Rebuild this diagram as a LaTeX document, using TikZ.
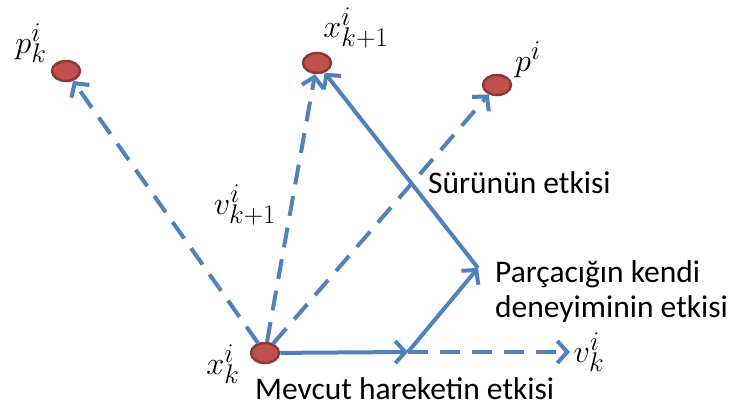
\documentclass[tikz,border=0pt]{standalone}
\usepackage{fontspec}
\setmainfont{Carlito}
\usetikzlibrary{arrows.meta,shapes.geometric}
\definecolor{lineblue}{HTML}{4F81BD}
\definecolor{dotred}{HTML}{C0504D}
\definecolor{dotedge}{HTML}{8C3836}
\newcommand{\mlab}[1]{\scalebox{1.3}{$#1$}}
\begin{document}
\begin{tikzpicture}[x=1pt,y=-1pt,
  dot/.style={ellipse,fill=dotred,draw=dotedge,line width=2.5pt,minimum width=28pt,minimum height=20pt,inner sep=0pt},
  vec/.style={draw=lineblue,line width=4pt,-{Straight Barb[length=10pt,width=22pt,line width=4pt]}},
  dvec/.style={vec,dash pattern=on 20pt off 12pt},
  mlabel/.style={inner sep=0pt,font=\fontsize{24.88}{30}\selectfont},
  tlabel/.style={inner sep=0pt,font=\fontsize{31.5}{35}\selectfont,text=black,align=left}]
\useasboundingbox (0,0) rectangle (730,410);
% points
\node[dot] (pk) at (66,71) {};
\node[dot] (xk1) at (317,63) {};
\node[dot] (pi) at (497,85) {};
\node[dot] (xk) at (265,353) {};
\coordinate (m) at (408,352);
\coordinate (e) at (478,268);
\coordinate (vk) at (570,352);
% dashed vectors
\draw[dvec] (xk) -- (pk);
\draw[dvec] (xk) -- (xk1);
\draw[dvec] (xk) -- (pi);
\draw[dvec] (m) -- (vk);
% solid vectors
\draw[vec] (xk) -- (m);
\draw[vec] (m) -- (e);
\draw[vec] (e) -- (xk1);
% math labels
\node[mlabel] (lpk) at (31,43) {\mlab{p_k^i}};
\node[mlabel] (lxk1) at (356,28) {\mlab{x_{k+1}^i}};
\node[mlabel] (lpi) at (528,60) {\mlab{p^i}};
\node[mlabel] (lvk1) at (245,205) {\mlab{v_{k+1}^i}};
\node[mlabel] (lxk) at (223,364) {\mlab{x_k^i}};
\node[mlabel] (lvk) at (589,352) {\mlab{v_k^i}};
% text labels
\node[tlabel,anchor=base west] (ts) at (428,193) {Sürünün etkisi};
\node[tlabel,anchor=base west] (tp) at (495,317) {Parçacığın kendi\\deneyiminin etkisi};
\node[tlabel,anchor=base west] (tm) at (255,399) {Mevcut hareketin etkisi};
\end{tikzpicture}
\end{document}
